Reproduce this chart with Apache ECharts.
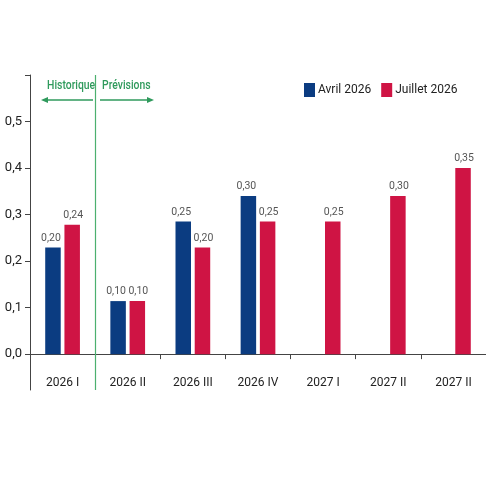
<!DOCTYPE html>
<html>
<head>
<meta charset="utf-8">
<script src="https://cdn.jsdelivr.net/npm/echarts@6/dist/echarts.min.js"></script>
<style>html,body{margin:0;padding:0;background:#fff}#c{width:486px;height:486px}</style>
</head>
<body>
<div id="c"></div>
<script>
const categories = ['2026 I', '2026 II', '2026 III', '2026 IV', '2027 I', '2027 II', '2027 II'];
// bar heights as drawn in the picture
const avril = [0.229, 0.114, 0.285, 0.34, null, null, null];
const juillet = [0.278, 0.114, 0.229, 0.285, 0.285, 0.34, 0.40];
// value labels as printed in the picture
const avrilLabels = ['0,20', '0,10', '0,25', '0,30', '', '', ''];
const juilletLabels = ['0,24', '0,10', '0,20', '0,25', '0,25', '0,30', '0,35'];
const yTicks = [0, 0.1, 0.2, 0.3, 0.4, 0.5, 0.6];
const yLabels = ['0,0', '0,1', '0,2', '0,3', '0,4', '0,5', ''];
const splitAt = [1]; // boundary between history and forecasts (in category units)

const FONT = "Roboto, 'Liberation Sans', sans-serif";
const BLUE = '#0b3c81', RED = '#cf1444', GREEN = '#2f9a5c', SPLIT = '#4cb06f', AXIS = '#444';

const chart = echarts.init(document.getElementById('c'));
chart.setOption({
  animation: false,
  textStyle: { fontFamily: FONT },
  legend: {
    left: 299, top: 78, width: 200, orient: 'horizontal', itemWidth: 11, itemHeight: 14, itemGap: 10,
    textStyle: { fontFamily: FONT, fontSize: 12, color: '#222', padding: [0, 0, 0, -2] },
    data: [{ name: 'Avril 2026', icon: 'rect' }, { name: 'Juillet 2026', icon: 'rect' }]
  },
  grid: { left: 30, right: -11, top: 75, bottom: 96 },
  xAxis: [{
    type: 'category', data: categories,
    axisLine: { onZero: true, lineStyle: { color: AXIS, width: 1 } },
    axisTick: { show: true, length: 5, lineStyle: { color: AXIS } },
    axisLabel: { margin: -13, fontSize: 12, color: '#222', fontFamily: FONT, interval: 0 },
    splitLine: { show: false }
  }, {
    type: 'value', min: 0, max: categories.length, show: false
  }],
  yAxis: {
    type: 'value', min: -0.0771, max: 0.6,
    axisLine: { show: true, lineStyle: { color: AXIS, width: 1 } },
    axisTick: { show: true, length: 5, customValues: yTicks, lineStyle: { color: AXIS } },
    axisLabel: {
      customValues: yTicks, fontSize: 13, color: '#222', fontFamily: FONT, margin: 8,
      formatter: (v) => { const i = yTicks.findIndex(t => Math.abs(t - v) < 1e-6); return i >= 0 ? yLabels[i] : ''; }
    },
    splitLine: { show: false }
  },
  series: [
    {
      name: 'Avril 2026', type: 'bar', data: avril, barWidth: 15.5, barGap: '24%',
      itemStyle: { color: BLUE },
      label: { show: true, position: 'top', distance: 4, offset: [-2, 0], fontSize: 10.5, color: '#555', fontFamily: FONT,
        formatter: (p) => avrilLabels[p.dataIndex] }
    },
    {
      name: 'Juillet 2026', type: 'bar', data: juillet, barWidth: 15.5, barGap: '24%',
      itemStyle: { color: RED },
      label: { show: true, position: 'top', distance: 4, offset: [1, 0], fontSize: 10.5, color: '#555', fontFamily: FONT,
        formatter: (p) => juilletLabels[p.dataIndex] }
    },
    {
      name: 'split', type: 'line', xAxisIndex: 1, data: [], silent: true,
      color: SPLIT, itemStyle: { color: SPLIT }, lineStyle: { color: SPLIT },
      markLine: {
        symbol: 'none', silent: true, label: { show: false },
        emphasis: { disabled: true },
        lineStyle: { color: SPLIT, width: 1.2, type: 'solid', opacity: 1 },
        data: splitAt.map(v => ({ xAxis: v, lineStyle: { color: SPLIT, width: 1.2, type: 'solid' } }))
      }
    }
  ],
  graphic: [
    { type: 'text', x: 47, y: 79, scaleX: 0.8, style: { text: 'Historique', fill: GREEN, font: '500 13px ' + FONT } },
    { type: 'text', x: 102, y: 79, scaleX: 0.8, style: { text: 'Prévisions', fill: GREEN, font: '500 13px ' + FONT } },
    { type: 'line', shape: { x1: 46, y1: 100, x2: 93, y2: 100 }, style: { stroke: GREEN, lineWidth: 1.3 } },
    { type: 'polygon', shape: { points: [[41, 100], [48, 97], [48, 103]] }, style: { fill: GREEN } },
    { type: 'line', shape: { x1: 100, y1: 100, x2: 149, y2: 100 }, style: { stroke: GREEN, lineWidth: 1.3 } },
    { type: 'polygon', shape: { points: [[154, 100], [147, 97], [147, 103]] }, style: { fill: GREEN } }
  ]
});
</script>
</body>
</html>
